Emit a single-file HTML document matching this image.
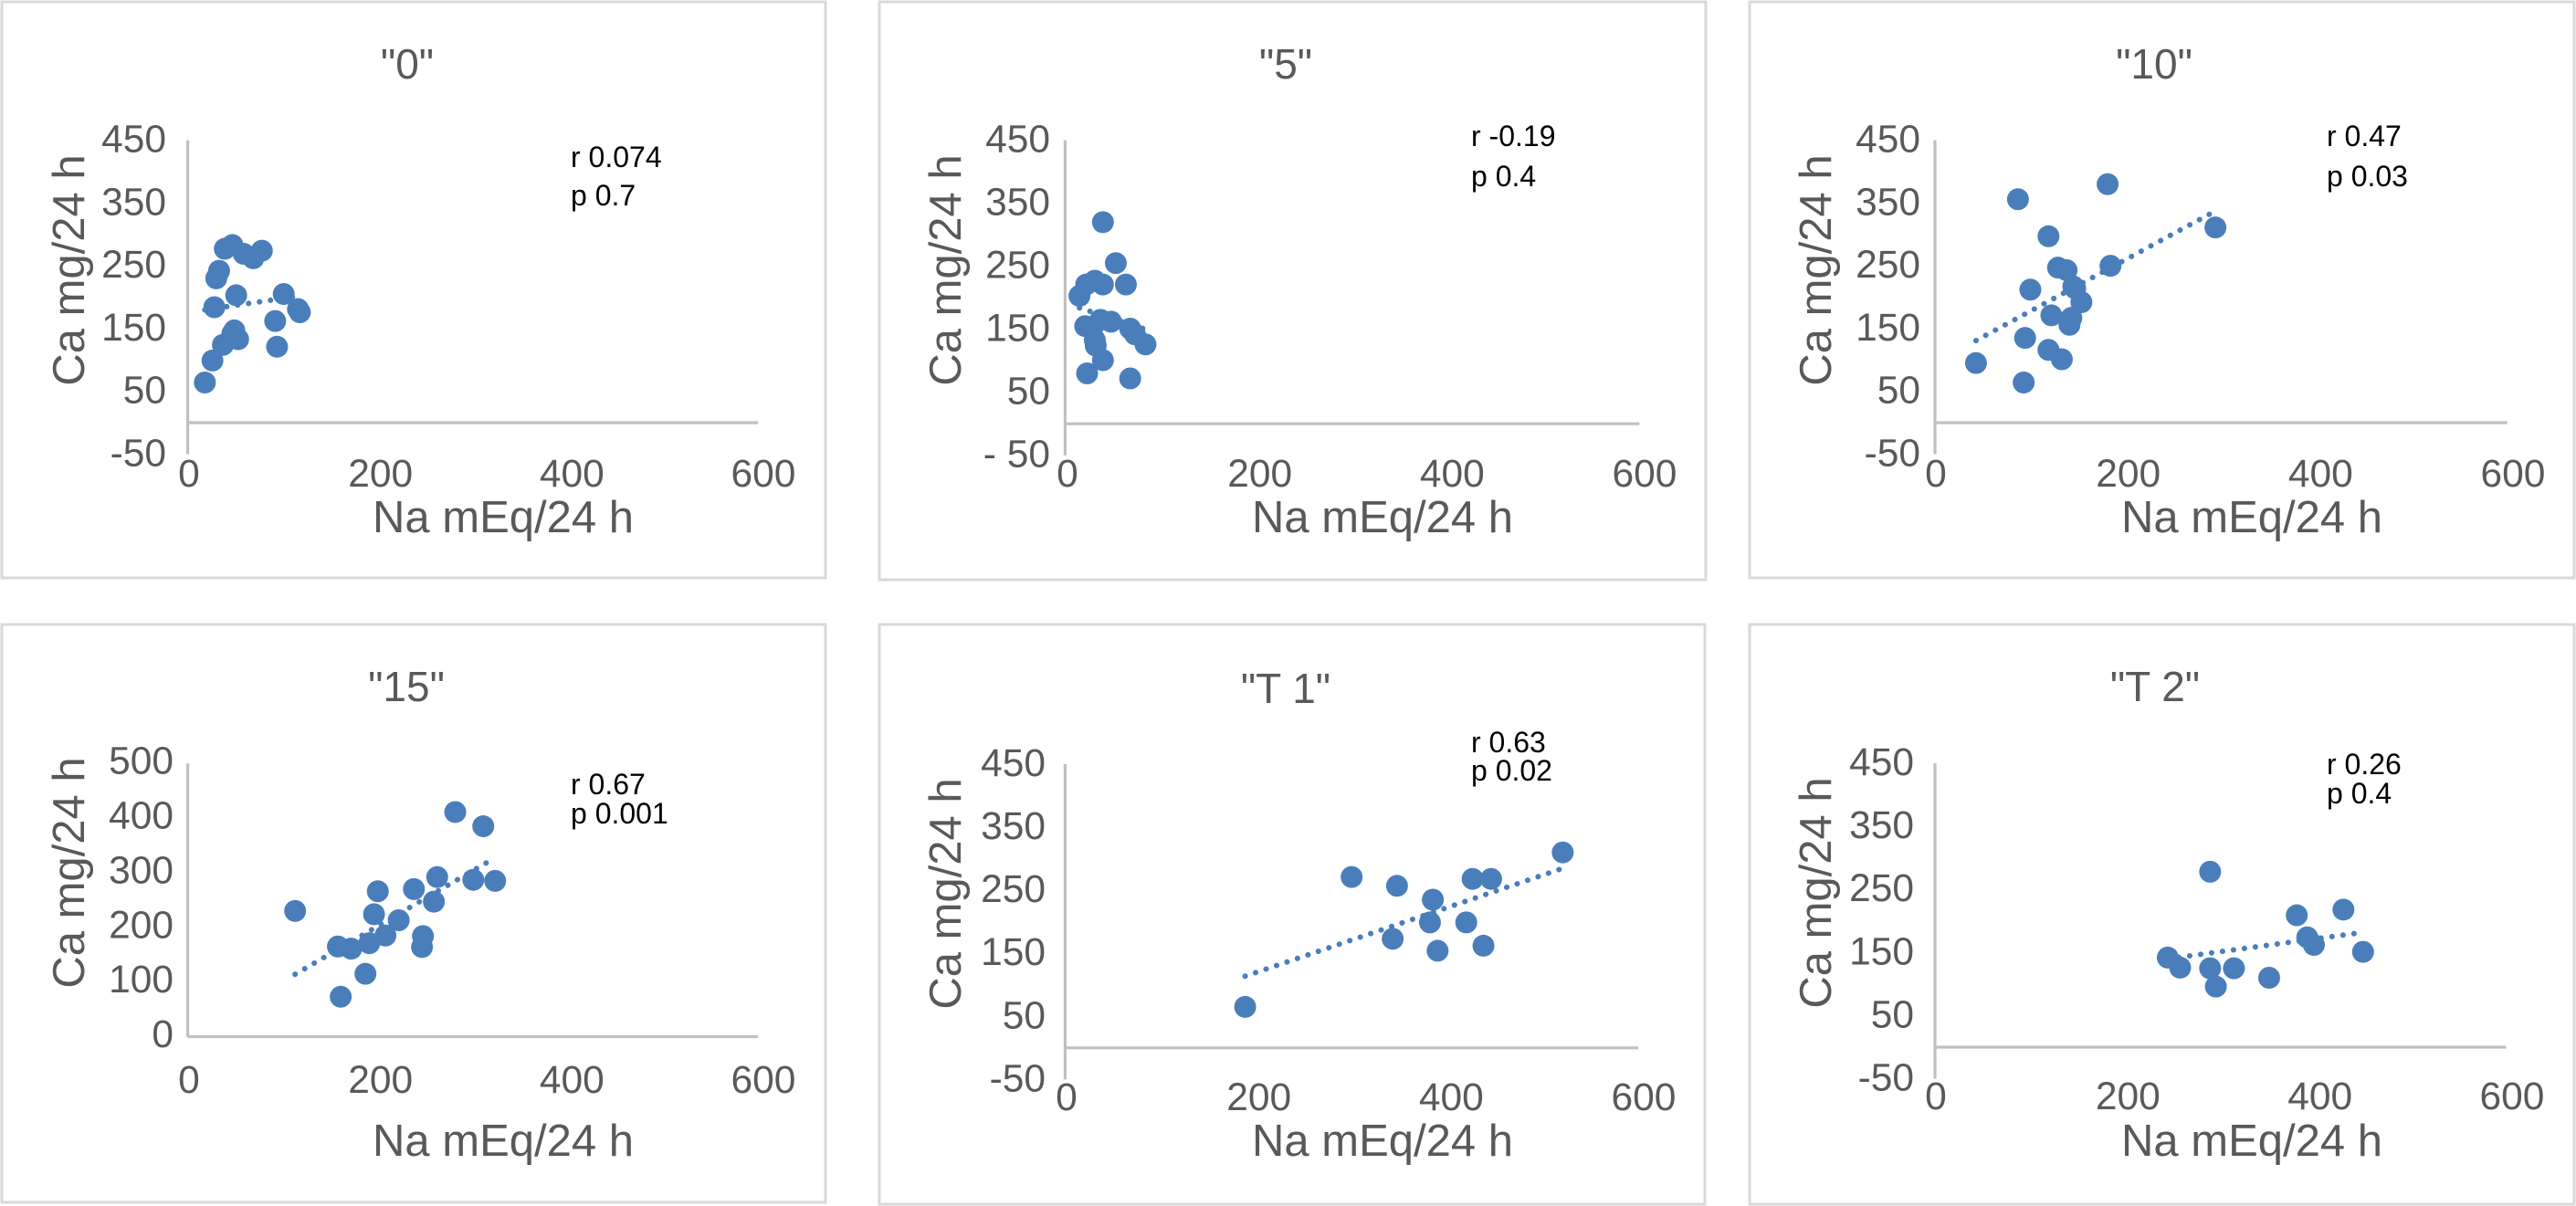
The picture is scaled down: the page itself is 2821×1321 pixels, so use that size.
<!DOCTYPE html>
<html lang="en">
<head>
<meta charset="utf-8">
<title>Ca vs Na scatter panels</title>
<style>
html,body{margin:0;padding:0;background:#fff;}
body{width:2821px;height:1321px;overflow:hidden;}
svg{display:block;font-family:"Liberation Sans",Arial,sans-serif;}
.frame{fill:#fff;stroke:#d9d9d9;stroke-width:3;}
.title{font-size:46px;fill:#595959;text-anchor:middle;}
.axis-title{font-size:49px;fill:#595959;text-anchor:middle;}
.note{font-size:32px;fill:#000;}
.tick{font-size:42.5px;fill:#595959;}
</style>
</head>
<body>
<svg id="chart" width="2821" height="1321" viewBox="0 0 2821 1321" xmlns="http://www.w3.org/2000/svg">
  <rect width="2821" height="1321" fill="#fff"/>

  <g id="panel-0">
    <rect class="frame" x="2" y="2" width="902" height="631"/>
    <text class="title" x="446" y="86">"0"</text>
    <text class="axis-title" x="551" y="583">Na mEq/24 h</text>
    <text class="axis-title" transform="translate(92 296) rotate(-90)">Ca mg/24 h</text>
    <text class="note" x="625" y="183">r 0.074</text>
    <text class="note" x="625" y="225">p 0.7</text>
  </g>

  <g id="panel-5">
    <rect class="frame" x="963" y="2" width="905" height="633"/>
    <text class="title" x="1408" y="86">"5"</text>
    <text class="axis-title" x="1514" y="583">Na mEq/24 h</text>
    <text class="axis-title" transform="translate(1052 296) rotate(-90)">Ca mg/24 h</text>
    <text class="note" x="1611" y="160">r -0.19</text>
    <text class="note" x="1611" y="204">p 0.4</text>
  </g>

  <g id="panel-10">
    <rect class="frame" x="1916" y="2" width="903" height="631"/>
    <text class="title" x="2359" y="86">"10"</text>
    <text class="axis-title" x="2466" y="583">Na mEq/24 h</text>
    <text class="axis-title" transform="translate(2005 296) rotate(-90)">Ca mg/24 h</text>
    <text class="note" x="2548" y="160">r 0.47</text>
    <text class="note" x="2548" y="204">p 0.03</text>
  </g>

  <g id="panel-15">
    <rect class="frame" x="2" y="684" width="902" height="633"/>
    <text class="title" x="445" y="768">"15"</text>
    <text class="axis-title" x="551" y="1266">Na mEq/24 h</text>
    <text class="axis-title" transform="translate(92 956) rotate(-90)">Ca mg/24 h</text>
    <text class="note" x="625" y="870">r 0.67</text>
    <text class="note" x="625" y="902">p 0.001</text>
  </g>

  <g id="panel-t1">
    <rect class="frame" x="963" y="684" width="904" height="635"/>
    <text class="title" x="1408" y="770">"T 1"</text>
    <text class="axis-title" x="1514" y="1266">Na mEq/24 h</text>
    <text class="axis-title" transform="translate(1052 979) rotate(-90)">Ca mg/24 h</text>
    <text class="note" x="1611" y="824">r 0.63</text>
    <text class="note" x="1611" y="855">p 0.02</text>
  </g>

  <g id="panel-t2">
    <rect class="frame" x="1916" y="684" width="903" height="635"/>
    <text class="title" x="2360" y="768">"T 2"</text>
    <text class="axis-title" x="2466" y="1266">Na mEq/24 h</text>
    <text class="axis-title" transform="translate(2005 978) rotate(-90)">Ca mg/24 h</text>
    <text class="note" x="2548" y="848">r 0.26</text>
    <text class="note" x="2548" y="880">p 0.4</text>
  </g>
</svg>

<script>
// ---- data ----
const xTickLabels = ["0", "200", "400", "600"];
const xTickValues = [0, 200, 400, 600];

const yTickValues = [450, 350, 250, 150, 50, -50];
const yTickLabels = ["450", "350", "250", "150", "50", "-50"];
const yTickLabelsFive = ["450", "350", "250", "150", "50", "- 50"];
const yTickValuesFifteen = [500, 400, 300, 200, 100, 0];
const yTickLabelsFifteen = ["500", "400", "300", "200", "100", "0"];

const na0 = [18, 26, 37, 49, 53, 47, 28, 51, 101, 92, 94, 118, 116, 30, 33, 39, 47, 59, 69, 78];
const ca0 = [64, 99, 124, 147, 133, 142, 184, 203, 205, 162, 121, 176, 181, 230, 242, 277, 283, 269, 262, 274];

const na5 = [39.5, 53, 63.5, 15, 22, 31, 39.5, 21, 37, 29, 48, 68, 73, 84, 31, 32, 39.5, 23, 68];
const ca5 = [320, 255, 221, 203, 221, 227, 221, 155, 165, 154, 162, 151, 142, 126, 133, 124, 101, 80, 72];

const na10 = [43, 93, 94.5, 100, 87, 119, 181, 294, 184, 129, 138, 145, 147, 153.5, 122, 143, 141, 119, 133];
const ca10 = [95, 64, 135, 212, 356, 297, 380, 311, 250, 247, 243, 217, 214, 192, 171, 167, 156, 116, 101];

const na15 = [113, 161, 187, 158, 172, 191, 208, 196, 200, 222, 238, 259, 262.5, 247.5, 246.5, 281.5, 311, 300.5, 323.5];
const ca15 = [230, 73, 115, 165, 161, 171, 185, 224, 266, 213, 270, 247, 292, 184, 164, 411, 385, 287, 285];

const naT1 = [188.5, 300, 347.5, 343, 385, 382, 390, 420, 426.6, 446, 438, 521];
const caT1 = [65, 271, 257, 173, 235, 199, 154, 199, 268, 268, 162, 310];

const naT2 = [244.5, 257.5, 289, 295, 314, 351, 289, 380, 429, 391, 398, 449.6];
const caT2 = [142, 126, 125, 96, 125, 110, 278, 209, 218, 174, 162, 151];

// ---- layout (pixels), separate from data ----
const POINT_COLOR = "#4a7ebb";
const AXIS_COLOR = "#c0c0c0";
const panels = [
  {id:"panel-0",   na:na0,  ca:ca0,  yVals:yTickValues,        yLabs:yTickLabels,        x0:205.6,  x1:830,    yTop:153.6, yZero:463,    yMax:450, yMin:-50, labRight:182,  labDy:13,   lab0:207,  lab600:836,  labY:518},
  {id:"panel-5",   na:na5,  ca:ca5,  yVals:yTickValues,        yLabs:yTickLabelsFive,    x0:1166.4, x1:1795.3, yTop:153.6, yZero:464.2,  yMax:450, yMin:-50, labRight:1150, labDy:13,   lab0:1169, lab600:1801, labY:518},
  {id:"panel-10",  na:na10, ca:ca10, yVals:yTickValues,        yLabs:yTickLabels,        x0:2119,   x1:2745.8, yTop:153.6, yZero:463,    yMax:450, yMin:-50, labRight:2103, labDy:13,   lab0:2120, lab600:2752, labY:518},
  {id:"panel-15",  na:na15, ca:ca15, yVals:yTickValuesFifteen, yLabs:yTickLabelsFifteen, x0:205.6,  x1:830,    yTop:836.2, yZero:1135.5, yMax:500, yMin:0,   labRight:190,  labDy:11.5, lab0:207,  lab600:836,  labY:1182},
  {id:"panel-t1",  na:naT1, ca:caT1, yVals:yTickValues,        yLabs:yTickLabels,        x0:1166.4, x1:1794,   yTop:837,   yZero:1147.8, yMax:450, yMin:-50, labRight:1145, labDy:13,   lab0:1168, lab600:1800, labY:1201},
  {id:"panel-t2",  na:naT2, ca:caT2, yVals:yTickValues,        yLabs:yTickLabels,        x0:2119,   x1:2744.6, yTop:836,   yZero:1147,   yMax:450, yMin:-50, labRight:2096, labDy:13,   lab0:2120, lab600:2751, labY:1200}
];

const SVG_NS = "http://www.w3.org/2000/svg";
function make(tag, attrs, parent) {
  const el = document.createElementNS(SVG_NS, tag);
  for (const k in attrs) el.setAttribute(k, attrs[k]);
  parent.appendChild(el);
  return el;
}

// least-squares fit of the plotted values (Excel-style linear trendline)
function fitLine(xs, ys) {
  const n = xs.length;
  const mx = xs.reduce((a, b) => a + b, 0) / n;
  const my = ys.reduce((a, b) => a + b, 0) / n;
  let sxy = 0, sxx = 0;
  for (let i = 0; i < n; i++) {
    sxy += (xs[i] - mx) * (ys[i] - my);
    sxx += (xs[i] - mx) * (xs[i] - mx);
  }
  const slope = sxy / sxx;
  return {slope: slope, intercept: my - slope * mx};
}

panels.forEach(function (p) {
  const g = document.getElementById(p.id);
  const xScale = v => p.x0 + (v / 600) * (p.x1 - p.x0);
  const yUnit = (p.yZero - p.yTop) / p.yMax;
  const yScale = v => p.yZero - v * yUnit;
  const xLabelPos = v => p.lab0 + (v / 600) * (p.lab600 - p.lab0);

  // axes
  const yAxis = make("line", {x1:p.x0, x2:p.x0, y1:yScale(p.yMax), y2:yScale(p.yMin), stroke:AXIS_COLOR, "stroke-width":3.2}, g);
  
  
  const xAxis = make("line", {x1:p.x0, x2:p.x1, y1:p.yZero, y2:p.yZero, stroke:AXIS_COLOR, "stroke-width":3.2}, g);
  
  

  // y tick labels
  p.yVals.forEach(function (v, i) {
    const t = make("text", {class:"tick", x:p.labRight, y:yScale(v) + p.labDy, "text-anchor":"end"}, g);
    t.textContent = p.yLabs[i];
    
    
  });

  // x tick labels
  xTickValues.forEach(function (v, i) {
    const t = make("text", {class:"tick", x:xLabelPos(v), y:p.labY + 15, "text-anchor":"middle"}, g);
    t.textContent = xTickLabels[i];
    
    
  });

  // trendline
  const fit = fitLine(p.na, p.ca);
  const xMin = Math.min.apply(null, p.na);
  const xMax = Math.max.apply(null, p.na);
  const trend = make("line", {
    x1:xScale(xMin), y1:yScale(fit.slope * xMin + fit.intercept),
    x2:xScale(xMax), y2:yScale(fit.slope * xMax + fit.intercept),
    stroke:POINT_COLOR, "stroke-width":6, "stroke-linecap":"round", "stroke-dasharray":"0.1 12"
  }, g);
  
  

  // points
  p.na.forEach(function (v, i) {
    const c = make("circle", {cx:xScale(v), cy:yScale(p.ca[i]), r:12, fill:POINT_COLOR}, g);
    
    
  });
});
</script>
</body>
</html>
